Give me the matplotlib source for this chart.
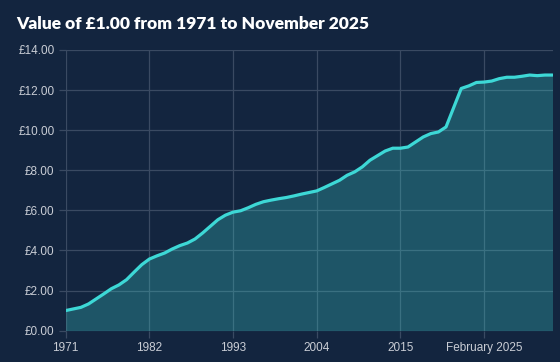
import matplotlib.pyplot as plt
import numpy as np

# values: yearly 1971-2024, then monthly Jan-Nov 2025
years = [str(y) for y in range(1971, 2025)]
months_2025 = ['January', 'February', 'March', 'April', 'May', 'June',
               'July', 'August', 'September', 'October', 'November']
labels = years + [m + ' 2025' for m in months_2025]

values = [1.00, 1.08, 1.16, 1.33, 1.58, 1.83, 2.09, 2.28, 2.54, 2.92,
          3.29, 3.57, 3.73, 3.87, 4.07, 4.24, 4.37, 4.57, 4.87, 5.20,
          5.53, 5.76, 5.91, 5.98, 6.13, 6.30, 6.43, 6.51, 6.58, 6.64,
          6.72, 6.81, 6.89, 6.97, 7.14, 7.32, 7.50, 7.75, 7.92, 8.17,
          8.50, 8.73, 8.96, 9.10, 9.10, 9.16, 9.41, 9.66, 9.83, 9.91,
          10.16, 11.12, 12.08, 12.21, 12.38, 12.40, 12.45, 12.57, 12.64, 12.64,
          12.69, 12.75, 12.72, 12.75, 12.75]

yticks = [0, 2, 4, 6, 8, 10, 12, 14]
tick_step = 11

bg = '#13253f'
grid_col = '#3a4a62'
line_col = '#3dd8d6'
text_col = '#c9cdd5'

fig = plt.figure(figsize=(5.6, 3.62), dpi=100)
fig.patch.set_facecolor(bg)
ax = fig.add_axes([65.7 / 560, 1 - 330.6 / 362, (552.5 - 65.7) / 560, (330.6 - 50) / 362])
ax.set_facecolor(bg)

x = np.arange(len(values))
# translucent fill so the grid shows through, like the original
ax.fill_between(x, values, 0, color=line_col, alpha=0.27, lw=0, zorder=2)
ax.plot(x, values, color=line_col, lw=2.3, solid_capstyle='round', zorder=3)

ax.set_xlim(0, len(values) - 1)
ax.set_ylim(0, 14)
ax.set_yticks(yticks)
ax.set_yticklabels(['£%.2f' % v for v in yticks])
xt = x[::tick_step]
ax.set_xticks(xt)
ax.set_xticklabels([labels[i] for i in xt])

ax.grid(True, color=grid_col, lw=0.9, zorder=1)
ax.set_axisbelow(True)
for s in ax.spines.values():
    s.set_visible(False)
ax.tick_params(axis='both', colors=grid_col, labelcolor=text_col, labelsize=8.5,
               length=5, width=0.9)
ax.tick_params(axis='y', pad=3)
ax.tick_params(axis='x', pad=3)
for lab in ax.get_xticklabels() + ax.get_yticklabels():
    lab.set_fontfamily(['Liberation Sans', 'DejaVu Sans'])

fig.text(16 / 560, 1 - 24 / 362, 'Value of £1.00 from 1971 to November 2025',
         color='white', fontsize=12.5, fontweight='heavy', family=['Lato', 'DejaVu Sans'],
         va='center', ha='left')

fig.savefig('out.png', dpi=100, facecolor=bg)
